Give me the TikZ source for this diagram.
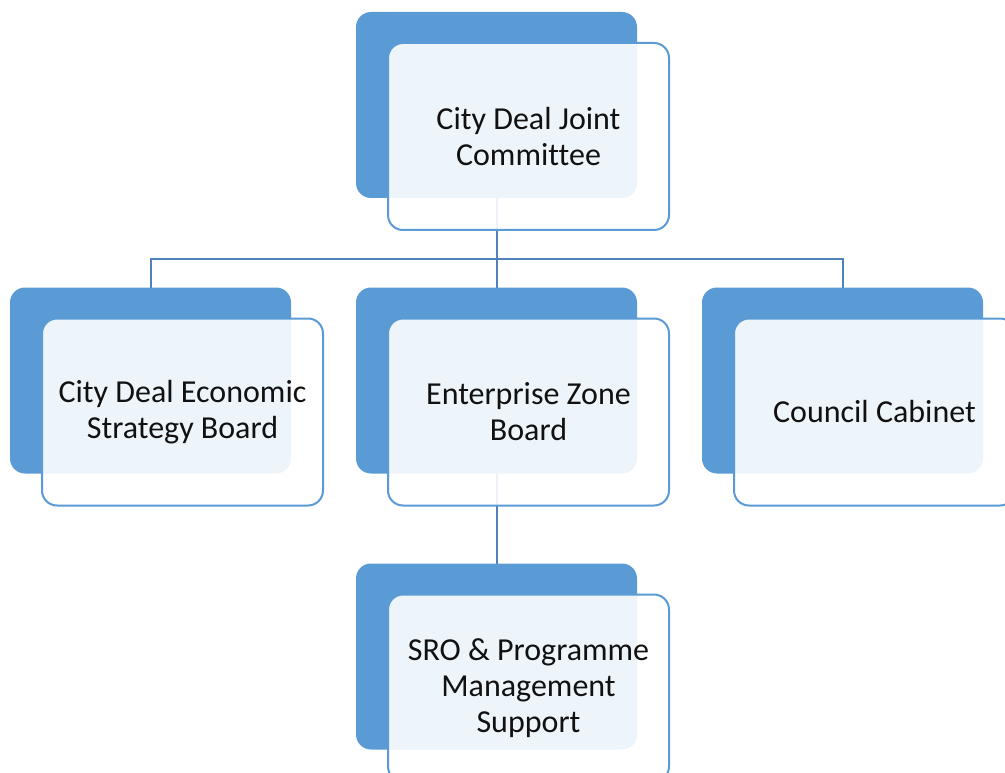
\documentclass[tikz,border=0pt]{standalone}
\usepackage{fontspec}
\setmainfont{Carlito}[Ligatures=NoCommon]
\usepackage{tikz}
\usetikzlibrary{positioning, calc, backgrounds}
\definecolor{tileblue}{HTML}{5B9BD5}
\definecolor{linkblue}{HTML}{4F81BD}
\definecolor{inkblack}{HTML}{111111}

\tikzset{
  backtile/.style={fill=tileblue, rounded corners=15pt, minimum width=281pt, minimum height=186pt, inner sep=0pt, outer sep=0pt},
  fronttile/.style={draw=tileblue, line width=2pt, fill=white, fill opacity=0.9, text opacity=1, rounded corners=15pt, minimum width=281pt, minimum height=187pt, inner sep=0pt, outer sep=0pt, align=center, text=inkblack, font=\fontsize{32}{36}\selectfont},
  link/.style={draw=linkblue, line width=2pt}
}

\begin{document}
\begin{tikzpicture}[x=1pt, y=-1pt]
          \useasboundingbox (0,0) rectangle (1005,773);
          \node[backtile] (jcback) at (496.5,105) {};
          \node[backtile] (ecback) at (150.5,380.5) {};
          \node[backtile] (ezback) at (496.5,380.5) {};
          \node[backtile] (ccback) at (842.5,380.5) {};
          \node[backtile] (sroback) at (496.5,656.5) {};
          \node[fronttile] (jc) at ([shift={(32,31.5)}]jcback.center) {City Deal Joint\\Committee};
          \node[fronttile] (ec) at ([shift={(32,31.5)}]ecback.center) {City Deal Economic\\Strategy Board};
          \node[fronttile] (ez) at ([shift={(32,31.5)}]ezback.center) {Enterprise Zone\\Board};
          \node[fronttile] (cc) at ([shift={(32,31.5)}]ccback.center) {Council Cabinet};
          \node[fronttile] (sro) at ([shift={(32,31.5)}]sroback.center) {SRO \& Programme\\Management\\Support};
          \begin{scope}[on background layer]
            \fill[white] (0,0) rectangle (1005,773);
            \coordinate (bus) at ($(ezback.north)+(0,-29)$);
            \draw[link] (jcback.south) -- (ezback.north);
            \draw[link] (ecback.north) |- (bus) -| (ccback.north);
            \draw[link] (ezback.south) -- (sroback.north);
          \end{scope}
        \end{tikzpicture}
\end{document}
